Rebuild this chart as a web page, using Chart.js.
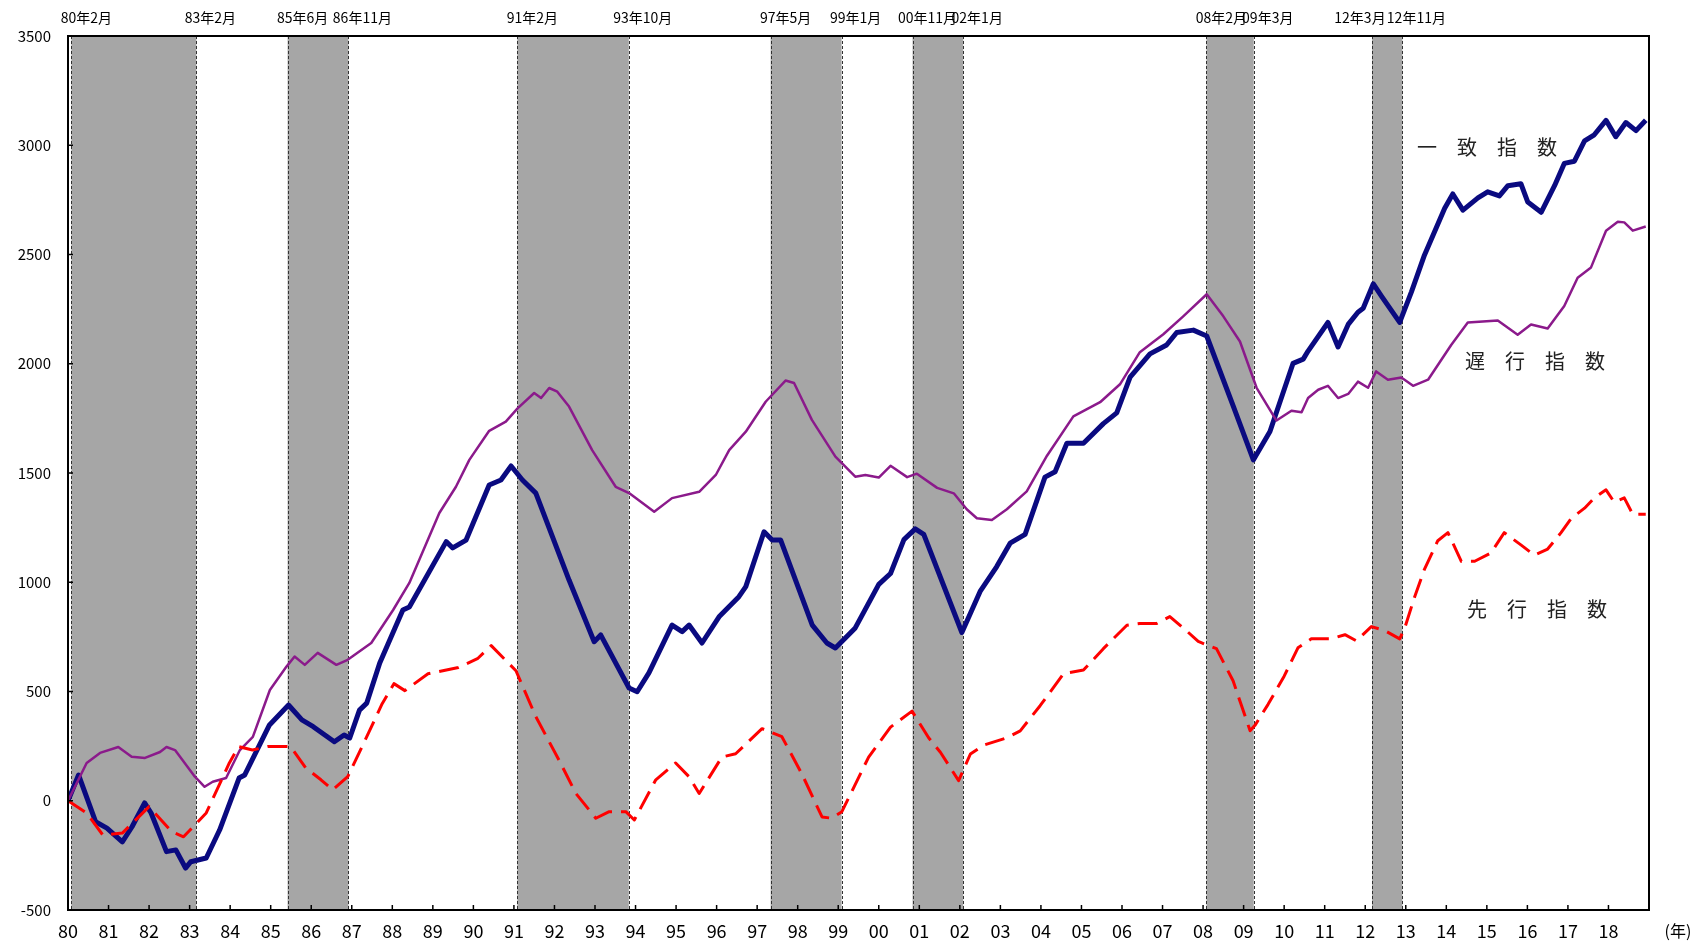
<!DOCTYPE html>
<html>
<head>
<meta charset="utf-8">
<script src="https://cdn.jsdelivr.net/npm/chart.js@4.4.1/dist/chart.umd.min.js"></script>
<style>
  body { margin: 0; background: #fff; }
  canvas { display: block; }
</style>
</head>
<body>
<canvas id="chart" width="1702" height="942"></canvas>
<script>
// x positions are decimal years (1980.0 = Jan 1980)
const coincidentYears = [1980.00, 1980.26, 1980.68, 1980.96, 1981.34, 1981.58, 1981.89, 1982.05, 1982.43, 1982.66,
  1982.90, 1983.03, 1983.41, 1983.74, 1984.22, 1984.36, 1984.97, 1985.44, 1985.77, 1986.05,
  1986.57, 1986.81, 1986.95, 1987.19, 1987.37, 1987.69, 1988.26, 1988.42, 1989.33, 1989.49,
  1989.82, 1990.39, 1990.68, 1990.93, 1991.21, 1991.54, 1992.36, 1992.98, 1993.14, 1993.84,
  1994.04, 1994.33, 1994.90, 1995.15, 1995.32, 1995.64, 1996.06, 1996.55, 1996.72, 1997.17,
  1997.37, 1997.58, 1998.36, 1998.72, 1998.93, 1999.42, 2000.00, 2000.29, 2000.62, 2000.90,
  2001.11, 2002.05, 2002.50, 2002.91, 2003.24, 2003.61, 2004.10, 2004.35, 2004.64, 2005.05,
  2005.54, 2005.87, 2006.20, 2006.69, 2007.10, 2007.35, 2007.76, 2008.09, 2008.74, 2009.24,
  2009.65, 2010.22, 2010.47, 2010.59, 2011.08, 2011.33, 2011.58, 2011.82, 2011.95, 2012.20,
  2012.40, 2012.85, 2013.14, 2013.46, 2013.96, 2014.16, 2014.41, 2014.78, 2015.02, 2015.31,
  2015.52, 2015.84, 2016.01, 2016.34, 2016.67, 2016.91, 2017.16, 2017.41, 2017.65, 2017.94,
  2018.18, 2018.43, 2018.68, 2018.92];
const coincidentValues = [0, 118, -96, -125, -188, -119, -10, -56, -233, -225,
  -308, -279, -262, -134, 104, 118, 347, 438, 370, 339,
  270, 301, 287, 415, 447, 630, 873, 887, 1186, 1157,
  1193, 1445, 1468, 1532, 1468, 1408, 1010, 728, 759, 516,
  499, 585, 804, 774, 804, 722, 842, 934, 980, 1231,
  1193, 1193, 804, 722, 699, 791, 990, 1040, 1195, 1244,
  1219, 770, 958, 1072, 1179, 1219, 1481, 1506, 1636, 1636,
  1726, 1775, 1939, 2045, 2086, 2143, 2154, 2127, 1808, 1560,
  1690, 2002, 2021, 2058, 2189, 2077, 2180, 2236, 2254, 2366,
  2310, 2189, 2329, 2497, 2712, 2777, 2703, 2759, 2787, 2768,
  2815, 2824, 2740, 2693, 2815, 2917, 2927, 3020, 3048, 3114,
  3039, 3104, 3067, 3114];

const laggingYears = [1980.00, 1980.46, 1980.79, 1981.24, 1981.57, 1981.90, 1982.27, 1982.43, 1982.64, 1983.13,
  1983.37, 1983.57, 1983.90, 1984.24, 1984.56, 1984.98, 1985.39, 1985.59, 1985.84, 1986.16,
  1986.62, 1986.90, 1987.48, 1988.02, 1988.42, 1989.16, 1989.57, 1989.90, 1990.39, 1990.80,
  1991.09, 1991.50, 1991.67, 1991.87, 1992.07, 1992.36, 1992.93, 1993.51, 1993.84, 1994.46,
  1994.90, 1995.57, 1995.98, 1996.31, 1996.72, 1997.21, 1997.70, 1997.91, 1998.35, 1998.93,
  1999.42, 1999.67, 2000.00, 2000.29, 2000.70, 2000.94, 2001.44, 2001.85, 2002.17, 2002.42,
  2002.79, 2003.16, 2003.65, 2004.15, 2004.80, 2005.46, 2005.95, 2006.44, 2007.02, 2007.51,
  2008.09, 2008.50, 2008.91, 2009.32, 2009.81, 2010.18, 2010.43, 2010.59, 2010.84, 2011.08,
  2011.33, 2011.58, 2011.82, 2012.07, 2012.27, 2012.56, 2012.89, 2013.18, 2013.55, 2014.12,
  2014.53, 2015.27, 2015.76, 2016.09, 2016.50, 2016.91, 2017.24, 2017.57, 2017.94, 2018.23,
  2018.39, 2018.60, 2018.92];
const laggingValues = [0, 173, 219, 246, 201, 196, 223, 246, 232, 110,
  64, 87, 104, 232, 292, 507, 614, 660, 622, 677,
  622, 645, 722, 873, 997, 1317, 1437, 1560, 1693, 1735,
  1796, 1866, 1843, 1889, 1872, 1804, 1605, 1437, 1408, 1323,
  1385, 1414, 1491, 1605, 1689, 1826, 1923, 1912, 1743, 1575,
  1483, 1491, 1479, 1533, 1481, 1497, 1432, 1407, 1334, 1293,
  1285, 1334, 1416, 1579, 1759, 1824, 1906, 2053, 2135, 2217,
  2318, 2217, 2102, 1890, 1740, 1785, 1778, 1843, 1881, 1899,
  1843, 1862, 1918, 1890, 1965, 1927, 1937, 1899, 1927, 2086,
  2189, 2198, 2133, 2180, 2161, 2264, 2394, 2441, 2609, 2650,
  2647, 2609, 2628];

const leadingYears = [1980.00, 1980.46, 1980.86, 1981.34, 1982.00, 1982.56, 1982.85, 1983.13, 1983.41, 1983.98,
  1984.21, 1984.55, 1984.93, 1985.49, 1985.86, 1986.24, 1986.53, 1986.90, 1987.37, 1987.75,
  1988.04, 1988.31, 1988.88, 1989.63, 1990.10, 1990.44, 1991.05, 1991.54, 1992.12, 1992.53,
  1993.02, 1993.35, 1993.76, 1993.97, 1994.50, 1994.99, 1995.32, 1995.57, 1996.13, 1996.47,
  1997.12, 1997.61, 1998.10, 1998.60, 1998.84, 1999.09, 1999.75, 2000.29, 2000.82, 2001.23,
  2001.52, 2001.97, 2002.26, 2002.59, 2003.16, 2003.49, 2003.98, 2004.56, 2005.05, 2005.54,
  2006.12, 2006.44, 2006.85, 2007.18, 2007.59, 2007.88, 2008.33, 2008.74, 2009.16, 2009.28,
  2009.60, 2010.00, 2010.34, 2010.67, 2011.16, 2011.50, 2011.78, 2012.15, 2012.48, 2012.85,
  2012.97, 2013.21, 2013.46, 2013.79, 2014.04, 2014.37, 2014.70, 2015.10, 2015.43, 2015.84,
  2016.17, 2016.50, 2016.83, 2017.08, 2017.41, 2017.65, 2017.94, 2018.14, 2018.39, 2018.60,
  2018.92];
const leadingValues = [0, -56, -157, -148, -27, -142, -165, -111, -56, 173,
  248, 232, 248, 248, 151, 96, 50, 110, 293, 444,
  536, 504, 581, 610, 650, 710, 595, 385, 183, 33,
  -80, -50, -50, -88, 96, 173, 110, 33, 200, 215,
  330, 293, 124, -74, -80, -50, 200, 337, 410, 288,
  222, 92, 214, 255, 288, 320, 435, 582, 598, 696,
  803, 811, 811, 843, 778, 729, 696, 549, 320, 345,
  440, 570, 700, 741, 741, 760, 732, 797, 779, 741,
  788, 928, 1059, 1190, 1227, 1096, 1096, 1134, 1227, 1171,
  1124, 1152, 1227, 1292, 1339, 1386, 1423, 1367, 1386, 1311,
  1311];

// business cycle peaks and troughs (year, month)
const peakYears = [1980, 1985, 1991, 1997, 2000, 2008, 2012];
const peakMonths = [2, 6, 2, 5, 11, 2, 3];
const troughYears = [1983, 1986, 1993, 1999, 2002, 2009, 2012];
const troughMonths = [2, 11, 10, 1, 1, 3, 11];
const peakLabels = ['80年2月', '85年6月', '91年2月', '97年5月', '00年11月', '08年2月', '12年3月'];
const troughLabels = ['83年2月', '86年11月', '93年10月', '99年1月', '02年1月', '09年3月', '12年11月'];

const yearLabels = ['80','81','82','83','84','85','86','87','88','89',
  '90','91','92','93','94','95','96','97','98','99',
  '00','01','02','03','04','05','06','07','08','09',
  '10','11','12','13','14','15','16','17','18'];

const seriesNames = ['一 致 指 数', '遅 行 指 数', '先 行 指 数'];

const toPoints = (xs, ys) => xs.map((x, i) => ({ x: x, y: ys[i] }));

Chart.defaults.font.family = "'Noto Sans CJK JP', 'DejaVu Sans', sans-serif";
Chart.defaults.color = '#000';

const decorations = {
  id: 'decorations',
  beforeDatasetsDraw(chart) {
    const { ctx, chartArea: a, scales: { x } } = chart;
    ctx.save();
    peakYears.forEach((py, i) => {
      const x0 = x.getPixelForValue(py + (peakMonths[i] - 1) / 12);
      const x1 = x.getPixelForValue(troughYears[i] + troughMonths[i] / 12);
      ctx.fillStyle = '#a6a6a6';
      ctx.fillRect(x0, a.top, x1 - x0, a.bottom - a.top);
      ctx.strokeStyle = '#333';
      ctx.lineWidth = 1;
      ctx.setLineDash([3, 2]);
      [x0, x1].forEach(px => {
        ctx.beginPath();
        ctx.moveTo(Math.round(px) + 0.5, a.top);
        ctx.lineTo(Math.round(px) + 0.5, a.bottom);
        ctx.stroke();
      });
      // dates above the frame
      ctx.setLineDash([]);
      ctx.fillStyle = '#000';
      ctx.font = "14px 'Noto Sans CJK JP'";
      ctx.textAlign = 'center';
      ctx.textBaseline = 'middle';
      const shiftPeak = peakLabels[i] === '12年3月' ? -12 : 15;
      ctx.fillText(peakLabels[i], x0 + shiftPeak, 18);
      ctx.fillText(troughLabels[i], x1 + 14, 18);
    });
    ctx.restore();
  },
  afterDraw(chart) {
    const { ctx, chartArea: a, scales: { x, y } } = chart;
    ctx.save();
    // frame
    ctx.strokeStyle = '#000';
    ctx.lineWidth = 2;
    ctx.strokeRect(a.left, a.top, a.right - a.left, a.bottom - a.top);
    // inner tick marks
    ctx.lineWidth = 1.5;
    x.ticks.forEach(t => {
      const px = x.getPixelForValue(t.value);
      ctx.beginPath();
      ctx.moveTo(px, a.bottom);
      ctx.lineTo(px, a.bottom - 5);
      ctx.stroke();
    });
    y.ticks.forEach(t => {
      const py = y.getPixelForValue(t.value);
      ctx.beginPath();
      ctx.moveTo(a.left, py);
      ctx.lineTo(a.left + 5, py);
      ctx.stroke();
    });
    // unit
    ctx.fillStyle = '#000';
    ctx.font = "16px 'Noto Sans CJK JP'";
    ctx.textAlign = 'center';
    ctx.textBaseline = 'middle';
    ctx.fillText('(年)', 1678, 931);
    // series names
    ctx.font = "20px 'Noto Sans CJK JP'";
    ctx.fillStyle = '#222';
    ctx.textAlign = 'left';
    ctx.fillText(seriesNames[0].replace(/ /g, '\u3000'), 1417, 147);
    ctx.fillText(seriesNames[1].replace(/ /g, '\u3000'), 1465, 361);
    ctx.fillText(seriesNames[2].replace(/ /g, '\u3000'), 1467, 609);
    ctx.restore();
  }
};

new Chart(document.getElementById('chart'), {
  type: 'line',
  data: {
    datasets: [{
      label: '一致指数',
      data: toPoints(coincidentYears, coincidentValues),
      borderColor: '#0a0a80',
      borderWidth: 5,
      order: 3
    }, {
      label: '遅行指数',
      data: toPoints(laggingYears, laggingValues),
      borderColor: '#8b1a8b',
      borderWidth: 2.5,
      order: 2
    }, {
      label: '先行指数',
      data: toPoints(leadingYears, leadingValues),
      borderColor: '#ff0000',
      borderWidth: 3,
      borderDash: [20, 9],
      order: 1
    }]
  },
  options: {
    responsive: false,
    animation: false,
    devicePixelRatio: 1,
    layout: { padding: { top: 36, right: 53, left: 0, bottom: 0 } },
    elements: {
      point: { radius: 0 },
      line: { tension: 0, borderJoinStyle: 'round', fill: false }
    },
    plugins: {
      legend: { display: false },
      tooltip: { enabled: false }
    },
    scales: {
      x: {
        type: 'linear',
        min: 1980,
        max: 2019,
        afterFit: s => { s.height = 32; },
        grid: { display: false, drawTicks: false },
        border: { display: false },
        ticks: {
          stepSize: 1,
          autoSkip: false,
          maxRotation: 0,
          padding: 10,
          font: { size: 18 },
          callback: v => yearLabels[Math.round(v) - 1980] ?? ''
        }
      },
      y: {
        min: -500,
        max: 3500,
        afterFit: s => { s.width = 68; },
        grid: { display: false, drawTicks: false },
        border: { display: false },
        ticks: {
          stepSize: 500,
          padding: 17,
          font: { size: 15 },
          callback: v => String(v)
        }
      }
    }
  },
  plugins: [decorations]
});
</script>
</body>
</html>
